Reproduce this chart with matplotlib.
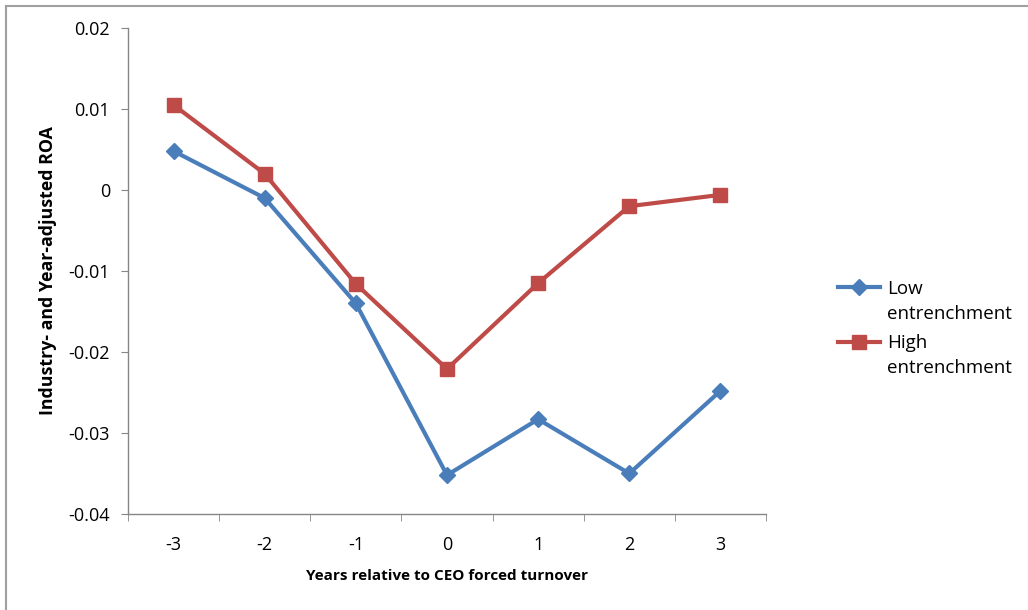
import matplotlib
matplotlib.use("Agg")
import matplotlib.pyplot as plt
from matplotlib.lines import Line2D

# Data
years = [-3, -2, -1, 0, 1, 2, 3]
low_entrenchment = [0.0048, -0.0010, -0.0140, -0.0352, -0.0283, -0.0350, -0.0248]
high_entrenchment = [0.0105, 0.0020, -0.0116, -0.0221, -0.0115, -0.0020, -0.0006]
y_ticks = [-0.04, -0.03, -0.02, -0.01, 0, 0.01, 0.02]
y_tick_labels = ["-0.04", "-0.03", "-0.02", "-0.01", "0", "0.01", "0.02"]
legend_first = ["Low", "High"]
legend_second = "entrenchment"

plt.rcParams['font.family'] = ['Open Sans', 'DejaVu Sans']

W, H = 1028, 610
fig = plt.figure(figsize=(W / 100, H / 100), dpi=100)
ax = fig.add_axes([128 / W, 1 - 514 / H, (766 - 128) / W, (514 - 28) / H])

# chart area border: only top and left edges show in the crop
fig.add_artist(Line2D([5.5 / W, 5.5 / W], [0, 1 - 5.5 / H], transform=fig.transFigure,
                      color="#a0a0a0", linewidth=1.5))
fig.add_artist(Line2D([5.5 / W, 1], [1 - 5.5 / H, 1 - 5.5 / H], transform=fig.transFigure,
                      color="#a0a0a0", linewidth=1.5))

low_line, = ax.plot(years, low_entrenchment, color="#4A7EBB", linewidth=3, marker="D",
                    markersize=8, label=legend_first[0])
high_line, = ax.plot(years, high_entrenchment, color="#BE4B48", linewidth=3, marker="s",
                     markersize=10, label=legend_first[1])

ax.set_xlim(-3.5, 3.5)
ax.set_ylim(-0.04, 0.02)
ax.set_yticks(y_ticks)
ax.set_yticklabels(y_tick_labels, fontsize=13)
ax.set_xticks(years)
ax.set_xticklabels([str(y) for y in years], fontsize=13)
ax.tick_params(axis="x", length=0, pad=16)
ax.tick_params(axis="y", length=5, color="#868686", pad=8)

# category boundary ticks on the x axis
ax.set_xticks([y + 0.5 for y in [-4] + years], minor=True)
ax.tick_params(axis="x", which="minor", length=5, color="#868686", direction="out")

for side in ["top", "right"]:
    ax.spines[side].set_visible(False)
for side in ["left", "bottom"]:
    ax.spines[side].set_color("#868686")
    ax.spines[side].set_linewidth(1.0)

ax.set_xlabel("Years relative to CEO forced turnover", fontsize=11, fontweight="bold", labelpad=11)
ax.set_ylabel("Industry- and Year-adjusted ROA", fontsize=12.8, fontweight="bold", labelpad=8)

# legend: marker sits beside the first line of each wrapped label
leg = fig.legend(handles=[low_line, high_line], loc="upper left",
                 bbox_to_anchor=(838 / W, 1 - 280 / H), frameon=False, fontsize=13.5,
                 borderpad=0, borderaxespad=0, handlelength=2.24, handletextpad=0.37,
                 labelspacing=1.93)

fig.canvas.draw()
for t in leg.get_texts():
    bb = t.get_window_extent()
    fig.text(bb.x0 / W, (bb.y0 + bb.y1) / 2 / H - 25 / H, legend_second,
             fontsize=13.5, va="center", ha="left")

fig.savefig("out.png", dpi=100)
